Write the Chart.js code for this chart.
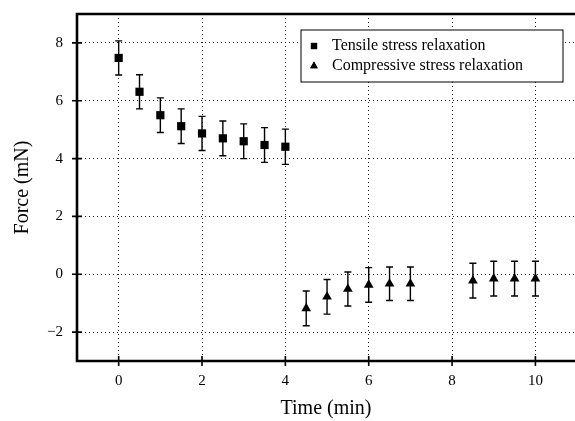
<!DOCTYPE html>
<html>
<head>
<meta charset="utf-8">
<script src="https://cdn.jsdelivr.net/npm/chart.js@4/dist/chart.umd.min.js"></script>
<style>
  html, body { margin: 0; padding: 0; background: #fff; overflow: hidden; }
  canvas { display: block; }
</style>
</head>
<body>
<canvas id="myChart" width="575" height="421"></canvas>
<script>
// data
var tensileTime = [0, 0.5, 1, 1.5, 2, 2.5, 3, 3.5, 4];
var tensileForce = [7.48, 6.31, 5.5, 5.12, 4.87, 4.7, 4.6, 4.47, 4.41];
var tensileErr = [0.59, 0.59, 0.6, 0.6, 0.59, 0.6, 0.6, 0.6, 0.61];

var compTime = [4.5, 5, 5.5, 6, 6.5, 7, 8.5, 9, 9.5, 10];
var compForce = [-1.18, -0.78, -0.51, -0.37, -0.33, -0.33, -0.22, -0.15, -0.15, -0.15];
var compErr = [0.6, 0.6, 0.59, 0.6, 0.58, 0.58, 0.6, 0.6, 0.6, 0.6];

var xTicks = [0, 2, 4, 6, 8, 10];
var yTicks = [-2, 0, 2, 4, 6, 8];
var yTickLabels = ['\u22122', '0', '2', '4', '6', '8'];

var serif = '"Liberation Serif", "DejaVu Serif", serif';

function toPoints(xs, ys) {
    return xs.map(function (x, i) { return { x: x, y: ys[i] }; });
}

// vertical error bars with caps, drawn under the markers
var errorBars = {
    id: 'errorBars',
    beforeDatasetsDraw: function (chart) {
        var ctx = chart.ctx;
        var xs = chart.scales.x, ys = chart.scales.y;
        ctx.save();
        ctx.strokeStyle = '#000';
        ctx.lineWidth = 1.4;
        chart.data.datasets.forEach(function (ds) {
            ds.data.forEach(function (p, i) {
                var px = xs.getPixelForValue(p.x);
                var top = ys.getPixelForValue(p.y + ds.errors[i]);
                var bot = ys.getPixelForValue(p.y - ds.errors[i]);
                ctx.beginPath();
                ctx.moveTo(px, top); ctx.lineTo(px, bot);
                ctx.moveTo(px - 3.5, top); ctx.lineTo(px + 3.5, top);
                ctx.moveTo(px - 3.5, bot); ctx.lineTo(px + 3.5, bot);
                ctx.stroke();
            });
        });
        ctx.restore();
    }
};

// heavy frame (the right side runs off the page), crossing ticks, boxed legend
var frame = {
    id: 'frame',
    afterDraw: function (chart) {
        var ctx = chart.ctx;
        var a = chart.chartArea;
        var xs = chart.scales.x, ys = chart.scales.y;
        ctx.save();
        ctx.strokeStyle = '#000';
        ctx.lineWidth = 2.6;
        ctx.beginPath();
        ctx.moveTo(a.right + 2, a.top);
        ctx.lineTo(a.left, a.top);
        ctx.lineTo(a.left, a.bottom);
        ctx.lineTo(a.right + 2, a.bottom);
        ctx.stroke();

        ctx.lineWidth = 1.6;
        ctx.beginPath();
        xTicks.forEach(function (v) {
            var px = xs.getPixelForValue(v);
            ctx.moveTo(px, a.bottom - 5); ctx.lineTo(px, a.bottom + 5);
        });
        yTicks.forEach(function (v) {
            var py = ys.getPixelForValue(v);
            ctx.moveTo(a.left - 5, py); ctx.lineTo(a.left + 5, py);
        });
        ctx.stroke();

        // legend
        var bx = 301, by = 30, bw = 262, bh = 52;
        ctx.fillStyle = '#fff';
        ctx.fillRect(bx, by, bw, bh);
        ctx.lineWidth = 1;
        ctx.strokeRect(bx, by, bw, bh);
        ctx.fillStyle = '#000';
        ctx.font = '16px ' + serif;
        ctx.textBaseline = 'middle';
        ctx.textAlign = 'left';
        chart.data.datasets.forEach(function (ds, i) {
            var cy = by + 16 + i * 20;
            Chart.helpers.drawPoint(ctx, { pointStyle: ds.pointStyle, radius: 4.4, borderWidth: 0 }, 314, cy);
            ctx.fill();
            ctx.fillText(ds.label, 332, cy);
        });
        ctx.restore();
    }
};

function noEdgePadding(axis) {
    axis.paddingTop = 0;
    axis.paddingBottom = 0;
    axis.paddingLeft = 0;
    axis.paddingRight = 0;
}

var ctx = document.getElementById('myChart').getContext('2d');
var myChart = new Chart(ctx, {
    type: 'scatter',
    data: {
        datasets: [
            {
                label: 'Tensile stress relaxation',
                data: toPoints(tensileTime, tensileForce),
                errors: tensileErr,
                pointStyle: 'rect',
                pointRadius: 5.8,
                pointHoverRadius: 5.8,
                backgroundColor: '#000',
                borderColor: '#000',
                borderWidth: 0
            },
            {
                label: 'Compressive stress relaxation',
                data: toPoints(compTime, compForce),
                errors: compErr,
                pointStyle: 'triangle',
                pointRadius: 5.6,
                pointHoverRadius: 5.6,
                backgroundColor: '#000',
                borderColor: '#000',
                borderWidth: 0
            }
        ]
    },
    options: {
        responsive: false,
        animation: false,
        events: [],
        layout: {
            autoPadding: false,
            padding: { left: 0, right: 0, top: 14, bottom: 0 }
        },
        scales: {
            x: {
                type: 'linear',
                min: -1,
                max: 10.95,
                afterBuildTicks: function (axis) {
                    axis.ticks = xTicks.map(function (v) { return { value: v }; });
                },
                afterFit: function (axis) { axis.height = 60; noEdgePadding(axis); },
                ticks: {
                    color: '#000',
                    padding: 11,
                    font: { family: serif, size: 15 },
                    callback: function (v) { return String(v); }
                },
                grid: {
                    color: '#222',
                    lineWidth: 1,
                    drawTicks: false
                },
                border: { display: false, dash: [1, 3] },
                title: {
                    display: true,
                    text: 'Time (min)',
                    color: '#000',
                    font: { family: serif, size: 20 },
                    padding: { top: 4, bottom: 0 }
                }
            },
            y: {
                type: 'linear',
                min: -3,
                max: 9,
                afterBuildTicks: function (axis) {
                    axis.ticks = yTicks.map(function (v) { return { value: v }; });
                },
                afterFit: function (axis) { axis.width = 77; noEdgePadding(axis); },
                ticks: {
                    color: '#000',
                    padding: 14,
                    font: { family: serif, size: 15 },
                    callback: function (v) { return yTickLabels[yTicks.indexOf(v)]; }
                },
                grid: {
                    color: '#222',
                    lineWidth: 1,
                    drawTicks: false
                },
                border: { display: false, dash: [1, 3] },
                title: {
                    display: true,
                    text: 'Force (mN)',
                    color: '#000',
                    font: { family: serif, size: 20 },
                    padding: { top: 11, bottom: 4 }
                }
            }
        },
        plugins: {
            legend: { display: false },
            tooltip: { enabled: false }
        }
    },
    plugins: [errorBars, frame]
});
</script>
</body>
</html>
